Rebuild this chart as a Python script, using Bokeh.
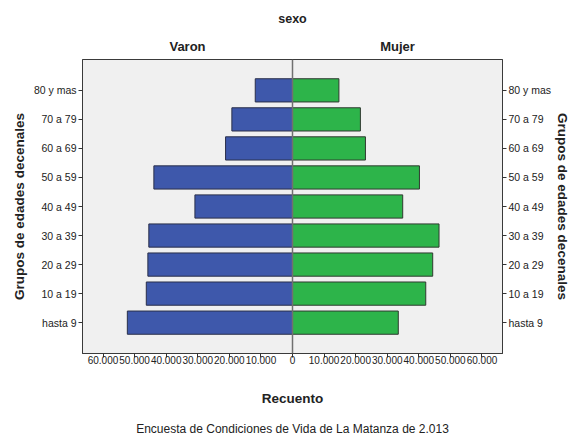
from bokeh.plotting import figure
from bokeh.models import (FactorRange, Range1d, LinearAxis, CategoricalAxis,
                          FixedTicker, Span, Title, ColumnDataSource)
from bokeh.embed import file_html
from bokeh.resources import INLINE

# ---- data ----
age_groups = ["hasta 9", "10 a 19", "20 a 29", "30 a 39", "40 a 49",
              "50 a 59", "60 a 69", "70 a 79", "80 y mas"]
varon = [52300, 46300, 45800, 45500, 30900, 43900, 21200, 19200, 11800]
mujer = [33500, 42200, 44400, 46400, 34900, 40200, 23100, 21500, 14700]
x_ticks = [-60000, -50000, -40000, -30000, -20000, -10000, 0,
           10000, 20000, 30000, 40000, 50000, 60000]
x_tick_labels = ["60.000", "50.000", "40.000", "30.000", "20.000", "10.000", "0",
                 "10.000", "20.000", "30.000", "40.000", "50.000", "60.000"]
sex_labels = ["Varon", "Mujer"]
panel_title = "sexo"
y_title = "Grupos de edades decenales"
x_title = "Recuento"
footnote = "Encuesta de Condiciones de Vida de La Matanza de 2.013"

X_MAX = 66500
FONT = "Liberation Sans"

src_v = ColumnDataSource(dict(y=age_groups, left=[-v for v in varon], right=[0] * len(varon)))
src_m = ColumnDataSource(dict(y=age_groups, left=[0] * len(mujer), right=mujer))

p = figure(frame_width=420, frame_height=294,
           x_range=Range1d(-X_MAX, X_MAX),
           y_range=FactorRange(*age_groups, range_padding=0.125),
           output_backend="svg", toolbar_location=None,
           min_border_left=0, min_border_right=0,
           min_border_top=0, min_border_bottom=0)

p.background_fill_color = "#f0f0f0"
p.border_fill_color = "white"
p.outline_line_color = "#3a3a3a"
p.outline_line_width = 1
p.xgrid.visible = False
p.ygrid.visible = False

p.hbar(y="y", left="left", right="right", height=0.8, source=src_v,
       fill_color="#3e58ab", line_color="#2a2f4a", line_width=1)
p.hbar(y="y", left="left", right="right", height=0.8, source=src_m,
       fill_color="#2db44a", line_color="#2f3a30", line_width=1)

p.add_layout(Span(location=0, dimension="height", line_color="#707070", line_width=1.5))

# bottom axis
xa = p.xaxis[0]
xa.ticker = FixedTicker(ticks=x_ticks)
xa.major_label_overrides = dict(zip(x_ticks, x_tick_labels))
xa.minor_tick_line_color = None
xa.minor_tick_out = 0
xa.minor_tick_in = 0
xa.major_tick_in = 0
xa.major_tick_out = 4
xa.major_tick_line_color = "#333333"
xa.axis_line_color = "#3a3a3a"
xa.major_label_standoff = -2
xa.major_label_text_font = FONT
xa.major_label_text_font_size = "10px"
xa.major_label_text_color = "#222222"
xa.axis_label = x_title
xa.axis_label_text_font = FONT
xa.axis_label_text_font_size = "13.5px"
xa.axis_label_text_font_style = "bold"
xa.axis_label_text_color = "#222222"
xa.axis_label_standoff = 24

def style_y(ax, label_standoff):
    ax.major_tick_in = 0
    ax.major_tick_out = 4
    ax.major_tick_line_color = "#333333"
    ax.axis_line_color = "#3a3a3a"
    ax.major_label_standoff = 2
    ax.major_label_text_font = FONT
    ax.major_label_text_font_size = "10.5px"
    ax.major_label_text_color = "#222222"
    ax.axis_label = y_title
    ax.axis_label_text_font = FONT
    ax.axis_label_text_font_size = "13.5px"
    ax.axis_label_text_font_style = "bold"
    ax.axis_label_text_color = "#222222"
    ax.axis_label_standoff = label_standoff

style_y(p.yaxis[0], 4)
ra = CategoricalAxis()
style_y(ra, 1)
p.add_layout(ra, "right")

# invisible spacer outside the left axis title
p.add_layout(Title(text=" ", text_font_size="5px", standoff=0), "left")

# top axis: panel headers
top_ticks = [-X_MAX / 2, X_MAX / 2]
ta = LinearAxis(ticker=FixedTicker(ticks=top_ticks, minor_ticks=[]),
                major_label_overrides=dict(zip(top_ticks, sex_labels)))
ta.major_tick_line_color = None
ta.minor_tick_line_color = None
ta.major_tick_out = 0
ta.major_tick_in = 0
ta.minor_tick_out = 0
ta.minor_tick_in = 0
ta.axis_line_color = None
ta.major_label_standoff = 6
ta.major_label_text_font = FONT
ta.major_label_text_font_size = "13px"
ta.major_label_text_font_style = "bold"
ta.major_label_text_color = "#222222"
ta.axis_label = panel_title
ta.axis_label_text_font = FONT
ta.axis_label_text_font_size = "12.5px"
ta.axis_label_text_font_style = "bold"
ta.axis_label_text_color = "#222222"
ta.axis_label_standoff = 10
p.add_layout(ta, "above")

# invisible spacer above the panel title
p.add_layout(Title(text=" ", text_font_size="5px", standoff=0), "above")

p.add_layout(Title(text=footnote, align="center", text_font=FONT,
                   text_font_size="12px", text_font_style="normal",
                   text_color="#222222", standoff=23), "below")

open("out.html", "w").write(file_html(p, INLINE))
